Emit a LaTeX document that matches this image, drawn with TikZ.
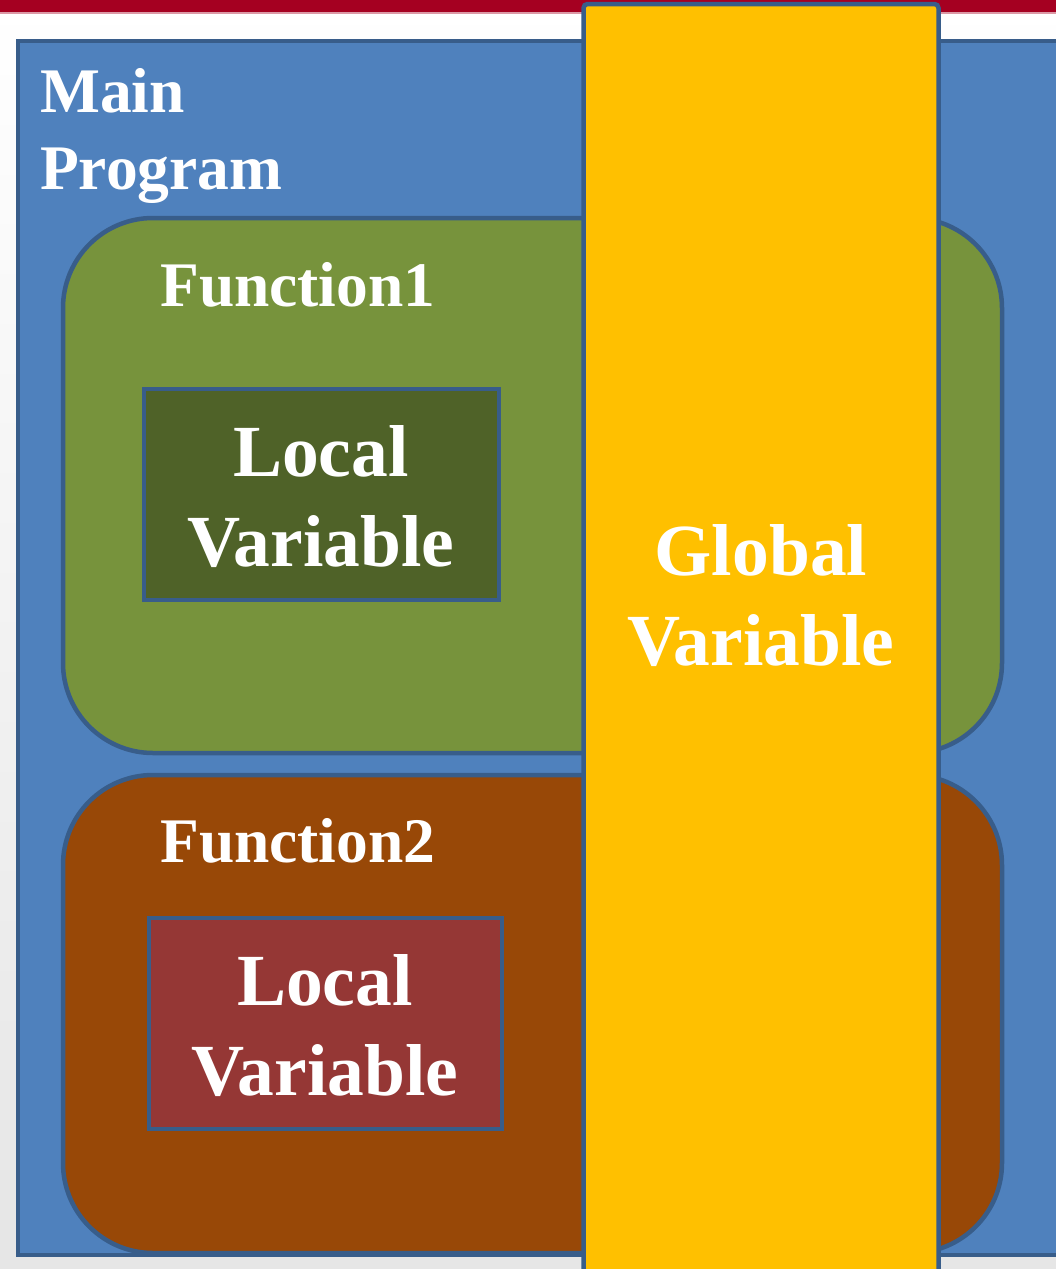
\documentclass[tikz,border=0pt]{standalone}
\usepackage{fontspec}
\setmainfont{Liberation Serif}
\begin{document}
\definecolor{mainblue}{HTML}{4F81BD}
\definecolor{edgeblue}{HTML}{385D8A}
\definecolor{funcgreen}{HTML}{77933C}
\definecolor{localgreen}{HTML}{4F6228}
\definecolor{funcbrown}{HTML}{984807}
\definecolor{localred}{HTML}{953735}
\definecolor{globalgold}{HTML}{FFC000}
\definecolor{topred}{HTML}{A50021}
\begin{tikzpicture}[x=1pt,y=-1pt,
  scopebox/.style={draw=edgeblue, line width=4.5pt, inner sep=0pt, outer sep=0pt},
  funcbox/.style={scopebox, rounded corners=90pt},
  localbox/.style={draw=edgeblue, line width=4pt, inner sep=0pt, outer sep=0pt,
    minimum width=355pt, minimum height=211pt},
  label/.style={text=white, inner sep=0pt, font=\bfseries\fontsize{63.5}{77}\selectfont},
  biglabel/.style={text=white, inner sep=0pt, align=center,
    font=\bfseries\fontsize{73.5}{90}\selectfont}]
\useasboundingbox (0,0) rectangle (1056,1269);
\clip (0,0) rectangle (1056,1269);
% page background and header rule
\shade[top color=white, bottom color=black!10] (0,0) rectangle (1056,1269);
\fill[topred] (0,0) rectangle (1056,12);
\fill[topred!40] (0,12) rectangle (1056,13.5);
% main program
\node[scopebox, fill=mainblue, minimum width=1052pt, minimum height=1214pt] (main) at (544,648) {};
\node[label, align=left, anchor=north west] (maintxt) at (40,68) {Main\\Program};
% function 1
\node[funcbox, fill=funcgreen, minimum width=939pt, minimum height=535pt] (f1) at (532.5,485.5) {};
\node[label, anchor=base west] (f1txt) at (160,306) {Function1};
\node[localbox, fill=localgreen] (l1) at (321,494) {};
\node[biglabel] (l1txt) at ([yshift=-3pt]l1.center) {Local\\Variable};
% function 2
\node[funcbox, fill=funcbrown, minimum width=939pt, minimum height=478pt] (f2) at (532.5,1014) {};
\node[label, anchor=base west] (f2txt) at (160,862) {Function2};
\node[localbox, fill=localred, minimum width=353pt] (l2) at (325,1023.5) {};
\node[biglabel] (l2txt) at ([yshift=-2pt]l2.center) {Local\\Variable};
% global variable column
\node[scopebox, fill=globalgold, rounded corners=4pt, minimum width=355pt, minimum height=1286pt] (glob) at (761,647) {};
\node[biglabel] (globtxt) at (761,596) {Global\\Variable};
\end{tikzpicture}
\end{document}
